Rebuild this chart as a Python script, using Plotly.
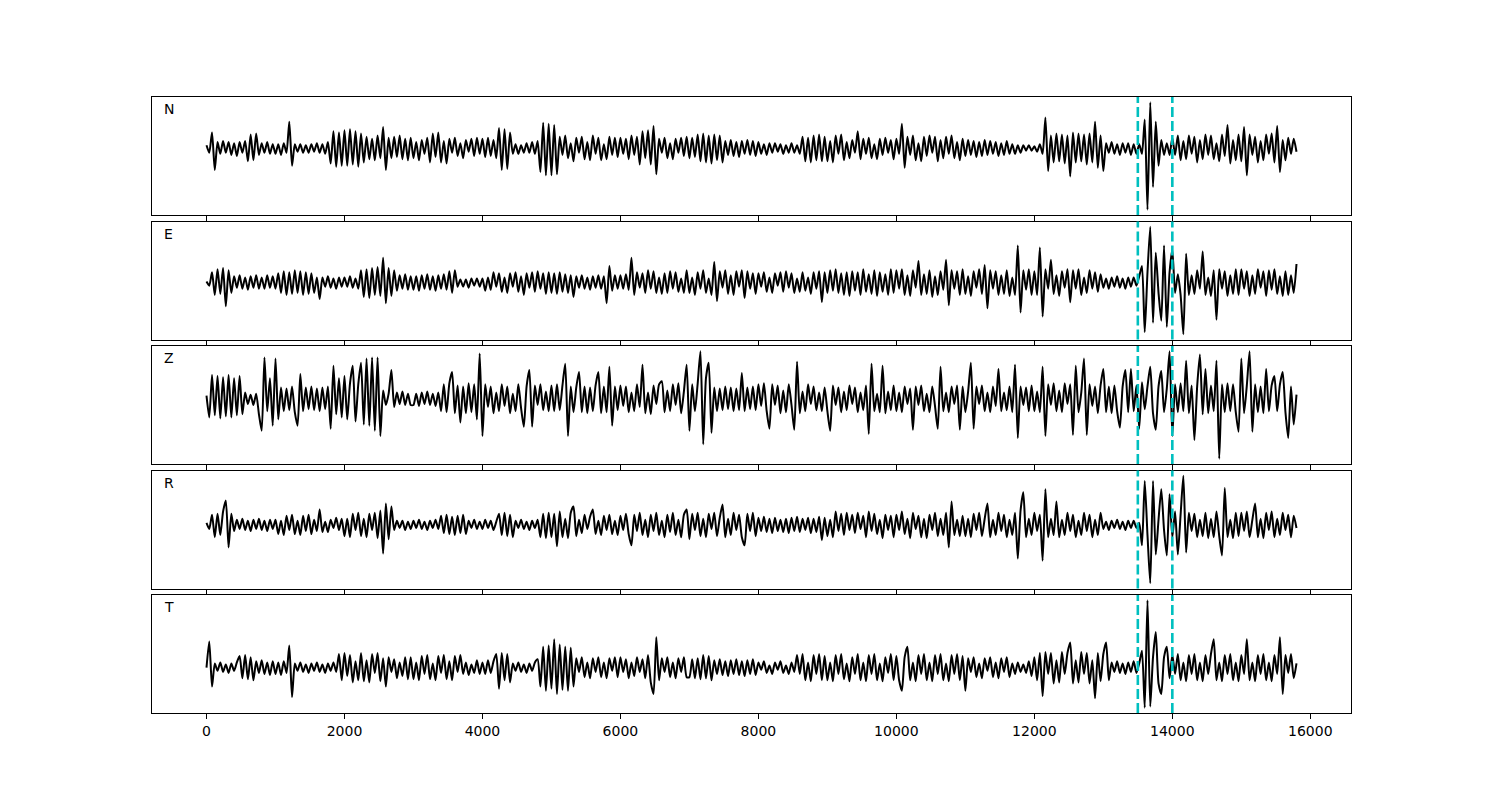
import plotly.graph_objects as go

# ---------------- data ----------------
SAMPLE_STEP = 40    # time units between listed samples (extrema)
ROW_SPAN = 1000     # each row below covers 1000 time units

channels = ["N", "E", "Z", "R", "T"]
pick_times = [13500, 14000]
x_tick_vals = [0, 2000, 4000, 6000, 8000, 10000, 12000, 14000, 16000]
x_tick_text = ["0", "2000", "4000", "6000", "8000", "10000", "12000", "14000", "16000"]

N_rows = [
    [3, -4, 15, -20, 6, -5, 7, -4, 6, -6, 5, -7, 6, -4, 7, -12, 13, -11, 14, -6, 5, -4, 6, -5, 4],
    [-5, 4, -6, 5, -4, 25, -16, 4, -3, 4, -4, 3, -4, 4, -3, 5, -4, 4, -5, 6, -14, 16, -17, 15, -16],
    [17, -16, 18, -15, 16, -17, 14, -13, 11, -10, 9, -11, 12, -9, 20, -20, 10, -9, 11, -8, 12, -10, 9, -11, 10],
    [-9, 6, -11, 8, -5, 10, -13, 14, -8, 15, -13, 7, -14, 9, -4, 10, -7, 5, -9, 8, -3, 9, -7, 10, -5],
    [9, -8, 10, -7, 8, -9, 19, -20, 18, -19, 15, -5, 4, -5, 3, -4, 5, -4, 6, -5, 7, -22, 24, -25, 23],
    [-25, 22, -24, 11, -6, 12, -9, 5, -12, 10, -4, 11, -10, 6, -11, 12, -5, 10, -11, 4, -10, 11, -6, 10, -8],
    [10, -5, 9, -10, 12, -6, 11, -15, 16, -9, 17, -15, 21, -24, 9, -4, 10, -9, 5, -10, 9, -4, 10, -7, 11],
    [-9, 10, -8, 13, -12, 14, -13, 12, -14, 13, -11, 12, -13, 7, -6, 8, -7, 6, -8, 7, -5, 8, -6, 7, -7],
    [6, -5, 4, -6, 5, -4, 5, -3, 4, -5, 3, -4, 5, -4, 3, -5, 11, -12, 10, -13, 12, -11, 13, -12, 11],
    [-12, 7, -13, 12, -5, 13, -11, 6, -9, 8, -4, 16, -10, 9, -5, 10, -9, 4, -10, 9, -6, 10, -4, 8, -10],
    [9, -5, 23, -18, 11, -6, 12, -11, 5, -12, 11, -7, 12, -4, 11, -12, 8, -9, 11, -5, 12, -9, 6, -11, 9],
    [-7, 8, -6, 7, -8, 6, -7, 8, -6, 7, -5, 6, -7, 5, -6, 7, -5, 4, -5, 3, -4, 3, -2, 3, -2],
    [2, -3, 4, -5, 29, -21, 12, -13, 14, -12, 13, -14, 12, -26, 15, -13, 14, -12, 13, -15, 14, -13, 25, -18, 12],
    [-21, 5, -4, 6, -5, 4, -6, 5, -4, 5, -6, 4, -5, 4, -5, 27, -57, 43, -36, 25, -16, 8, -6, 5, -6],
    [10, -6, 12, -11, 7, -10, 12, -5, 11, -13, 8, -10, 13, -6, 12, -10, 5, -12, 13, -7, 22, -14, 8, -11, 13],
    [-12, 20, -25, 13, -6, 11, -13, 7, -11, 13, -5, 14, -13, 21, -22, 8, -11, 10, -5, 9, -3],
]

E_rows = [
    [1, -3, 10, -12, 13, -11, 14, -23, 12, -10, 6, -5, 7, -6, 5, -7, 6, -5, 7, -6, 5, -6, 7, -5, 6],
    [-6, 9, -10, 11, -12, 10, -11, 12, -10, 11, -12, 10, -11, 9, -10, 5, -16, 5, -4, 6, -5, 4, -6, 5, -4],
    [5, -4, 6, -5, 4, -6, 12, -14, 13, -15, 14, -12, 15, -13, 24, -20, 14, -13, 12, -8, 7, -6, 8, -7, 6],
    [-7, 6, -8, 7, -6, 8, -7, 6, -8, 7, -6, 8, -7, 11, -10, 12, -4, 3, -4, 3, -5, 4, -3, 4, -4],
    [4, -8, 5, -7, 10, -4, 9, -9, 5, -10, 9, -4, 10, -9, 6, -12, 9, -5, 10, -9, 11, -6, 9, -11, 10],
    [-10, 9, -11, 10, -9, 8, -10, 7, -14, 6, -5, 7, -6, 5, -7, 6, -5, 7, -6, 6, -20, 16, -8, 7, -6],
    [7, -6, 8, -7, 24, -12, 10, -5, 9, -10, 12, -6, 11, -10, 5, -11, 9, -10, 11, -6, 10, -9, 4, -10, 12],
    [-10, 5, -12, 10, -6, 12, -10, 4, -12, 20, -18, 11, -5, 12, -11, 7, -12, 11, -4, 12, -15, 11, -6, 9, -11],
    [9, -4, 10, -9, 5, -10, 9, -3, 10, -9, 11, -5, 9, -10, 4, -9, 10, -8, 5, -11, 10, -6, 11, -19, 10],
    [-10, 12, -8, 13, -10, 9, -12, 10, -13, 11, -8, 10, -12, 13, -9, 8, -11, 12, -13, 10, -9, 8, -12, 13, -10],
    [12, -6, 13, -12, 7, -13, 12, -5, 21, -12, 8, -11, 12, -14, 6, -12, 11, -7, 22, -22, 12, -6, 11, -12, 13],
    [-11, 6, -13, 11, -5, 13, -11, 17, -25, 12, -6, 11, -12, 7, -11, 12, -13, 5, -12, 36, -29, 12, -7, 13, -12],
    [11, -12, 34, -33, 13, -6, 22, -11, 7, -13, 11, -5, 13, -19, 12, -6, 13, -12, 5, -10, 12, -6, 10, -9, 8],
    [-5, 4, -6, 5, -4, 6, -5, 4, -6, 5, -4, 5, -3, 6, 16, -48, 10, 54, -39, 29, -10, -37, 36, -43, 10],
    [32, -10, 8, -12, -50, 28, -12, 7, -11, 12, -6, 30, -12, 5, -13, 12, -36, 13, -6, 11, -13, 7, -11, 13, -12],
    [13, -6, 11, -13, 7, -11, 13, -5, 11, -13, 12, -7, 13, -11, 6, -13, 11, -12, 7, -10, 18],
]

Z_rows = [
    [3, -18, 23, -16, 22, -19, 21, -17, 23, -18, 20, -16, 22, -15, 6, -5, 4, -6, 5, -15, -31, 40, -12, 20, -26],
    [39, -20, 11, -12, 10, -11, 12, -13, -26, 24, -12, 11, -10, 12, -11, 10, -12, 11, -10, 12, -29, 32, -15, 20, -18],
    [22, -20, 15, 32, -22, 14, 35, -25, 39, -26, 40, -31, 40, -36, 8, -6, 5, 28, -8, 6, -5, 7, -6, 5, -6],
    [-6, 5, -7, 6, -5, 7, -6, 5, -7, 6, -12, 14, -13, 15, 26, -14, 13, -23, 12, -14, 15, -13, 14, -20, 44],
    [-36, 14, -8, 12, -14, 6, -12, 14, -7, 12, -14, 5, -12, 14, -9, -27, 12, 28, -27, 13, -6, 14, -11, 7, -12],
    [13, -12, 14, -11, 13, 34, -36, 12, -13, 11, 26, -13, 12, -14, 11, -12, 13, 26, -14, 12, -13, 31, -26, 12, -11],
    [13, -7, 12, -13, 6, -12, 14, -8, 33, -14, 6, -15, 13, -5, 14, 17, -13, 8, -12, 14, -6, 15, -14, 7, 33],
    [-31, 14, -12, 15, 46, -44, 20, 35, -33, 11, -12, 10, -11, 12, -10, 11, -12, 10, -11, 25, -12, 11, -10, 12, -11],
    [14, -7, 15, -12, -29, 14, -6, 13, -14, 8, -13, 14, -6, -30, 36, -14, 7, -12, 14, -5, 12, -11, 6, -12, 11],
    [-12, -31, 13, -6, 11, -13, 7, -11, 13, -5, 11, -13, 6, -11, 13, -34, 34, -12, 5, -13, 32, -14, 7, -11, 13],
    [-12, 6, -13, 12, -5, 10, -30, 12, -6, 13, -12, 5, -13, 12, -7, -29, 31, -12, 6, -13, 12, -5, 13, -30, 12],
    [-13, 7, 35, -29, 12, -5, 13, -12, 6, -13, 12, -7, 29, -12, 6, -11, 12, -13, 33, -38, 12, -6, 11, -12, 13],
    [-12, 7, -13, 31, -36, 14, -6, 15, -12, 8, -13, 15, -5, 14, -35, 32, -13, 6, 39, -35, 14, -7, 12, -14, 13],
    [29, -13, 12, -14, 13, -12, -28, 12, 28, -13, 29, -12, 13, -29, 16, -10, 12, 31, -14, -30, 12, 27, -13, 10, 46],
    [-36, 14, -13, 15, -12, 37, -14, 13, -40, 12, 43, -15, 29, -14, 13, -12, 37, -58, 14, -13, 15, -12, 14, -13, -32],
    [39, -14, 13, 46, -32, 14, -13, 12, -14, 29, -12, 13, 22, -12, 14, 26, -13, -38, 12, -25, 4],
]

R_rows = [
    [2, -4, 10, -12, 11, -10, 13, 24, -22, 11, -6, 5, -4, 6, -5, 4, -6, 5, -4, 6, -5, 4, -6, 5, -4],
    [5, -9, 4, -10, 9, -5, 10, -9, 4, -10, 9, -6, 10, -9, 5, -6, 15, -7, 3, -7, 5, -3, 7, -5, 6],
    [-11, 6, -12, 11, -5, 12, -11, 6, -12, 11, -5, 12, -13, 14, -28, 21, -14, 18, -5, 4, -3, 4, -5, 3, -4],
    [4, -3, 5, -4, 3, -5, 4, -3, 5, -4, 9, -8, 10, -9, 8, -10, 9, -8, 10, -9, 4, -3, 5, -4, 3],
    [-4, 5, -3, 4, -5, 3, 11, -10, 12, -11, 10, -12, 4, -3, 5, -4, 3, -5, 4, -3, 5, -12, 11, -13, 12],
    [-12, 11, -21, 13, -12, 6, -13, 12, 18, -11, 5, -8, 10, -4, 8, 15, -9, 4, -10, 9, -5, 10, -9, 4, -10],
    [9, -5, 11, -9, -20, 10, -6, 12, -10, 5, -12, 10, -6, 12, -10, 4, -12, 10, -7, 12, -10, 5, -12, 10, 15],
    [-14, 11, -5, 12, -11, 6, -12, 11, -4, 12, -11, 7, 20, -12, 6, -10, 12, -5, 10, -12, -20, 11, -6, 12, -11],
    [7, -6, 8, -7, 6, -8, 7, -6, 5, -7, 6, -8, 7, -6, 8, -7, 6, -5, 7, -8, 6, -7, 8, -15, 7],
    [-11, 5, -12, 13, -6, 11, -10, 12, -5, 10, -8, 12, -4, 9, -12, 13, -6, 11, -9, 5, -13, 10, -5, 9, -12],
    [10, -5, 13, -9, 6, -13, 12, -4, 9, -12, 6, -13, 10, -5, 12, -11, 6, -10, 12, -22, 23, -10, 5, -11, 9],
    [-11, 6, -12, 11, -5, 12, -11, 6, 21, -12, 5, -10, 12, -6, 10, -12, 5, -10, 12, -33, 14, 32, -12, 6, -10],
    [12, -6, 10, -35, 35, -12, 6, -10, 23, -12, 5, -10, 12, -6, 10, -12, 4, -10, 12, -6, 10, -12, 5, -10, 12],
    [-4, 3, -5, 4, -3, 5, -4, 3, -5, 4, -3, 4, -3, 2, -20, 43, -10, -57, 43, -29, 5, 35, -5, -30, 30],
    [-12, 13, -29, 10, 48, -27, 12, -6, 11, -12, 5, -11, 12, -13, 6, -12, 13, -11, -30, 36, -12, 5, -13, 12, -11],
    [12, -6, 13, -12, 5, 21, -12, 6, -13, 12, -5, 13, -12, 6, -10, 12, -5, 10, -12, 9, -3],
]

T_rows = [
    [0, 25, -18, 4, -3, 5, -4, 3, -5, 4, -3, 5, 11, -10, 12, -11, 10, -12, 6, -5, 7, -6, 5, -7, 6],
    [-6, 5, -7, 6, -5, 21, -28, 4, -3, 5, -4, 3, -5, 4, -3, 5, -4, 3, -5, 4, -3, 5, -4, 13, -12],
    [14, -8, 12, -14, 6, -12, 14, -13, 7, -14, 13, -5, 14, -13, 9, -18, 10, -4, 8, -10, 5, -8, 10, -11, 10],
    [-11, 5, -12, 11, -6, 12, -11, 4, -12, 11, -5, 12, -11, 6, -12, 11, -4, 12, -6, 5, -7, 3, -5, 7, -6],
    [5, -6, 7, -5, 6, 13, -20, 14, -12, 13, -14, 4, -3, 5, -4, 3, -5, 4, -3, 5, 8, -18, 20, -22, 21],
    [-20, 27, -25, 22, -21, 20, -22, 19, -18, 9, -4, 10, -9, 5, -10, 9, -4, 10, -9, 5, -10, 9, -3, 10, -9],
    [10, -4, 8, -10, 5, -8, 10, -4, 8, -10, 12, -14, -25, 29, -12, 9, -4, 10, -9, 5, -10, 9, -4, 10, -9],
    [-9, 8, -10, 9, -11, 12, -10, 11, -12, 7, -6, 8, -7, 6, -8, 7, -6, 8, -7, 6, -8, 7, -6, 8, -7],
    [5, -2, 6, -5, 2, -6, 5, -2, 6, -5, 2, -6, 5, -4, 12, -6, 13, -12, 5, -13, 12, -6, 13, -12, 11],
    [-12, 5, -13, 12, -6, 13, -11, 4, -13, 10, -6, 13, -12, 5, -13, 12, -6, 13, -12, 4, -13, 10, -5, 13, -12],
    [11, -12, -22, 10, 20, -12, 5, -13, 12, -6, 13, -12, 5, -13, 12, -6, 13, -12, 4, -13, 12, -6, 13, -12, 11],
    [-22, 9, -4, 10, -9, 4, -10, 9, -3, 10, -9, 5, -10, 9, -4, 10, -9, 4, -6, 5, -4, 3, -5, 6, -8],
    [10, -12, 14, -27, 15, -6, 14, -15, 7, -14, 15, -6, 14, 24, -15, 7, -14, 15, -6, 14, -15, 7, -29, 14, -13],
    [13, 24, -12, 5, -4, 6, -5, 4, -6, 5, -4, 6, -5, 4, 16, -38, 64, -37, 10, 34, -15, -25, 10, 20, -10],
    [12, -6, 13, -12, 5, -13, 12, -6, 13, -12, 5, -13, 12, -6, 13, 27, -12, 5, -13, 12, -6, 13, -12, 5, -13],
    [12, -6, 27, -12, 5, -13, 12, -6, 13, -12, 5, -13, 12, -6, 29, -25, 12, -5, 13, -10, 4],
]

traces_rows = [N_rows, E_rows, Z_rows, R_rows, T_rows]


def expand(rows):
    t, y = [], []
    for k, row in enumerate(rows):
        for j, v in enumerate(row):
            t.append(k * ROW_SPAN + j * SAMPLE_STEP)
            y.append(v)
    return t, y


# ---------------- layout geometry ----------------
W, H = 1500, 800
M_L, M_R, M_T, M_B = 144, 157, 89, 95   # page body adds ~7px offset
plot_h = H - M_T - M_B          # 616
panel_h = 118
panel_pitch = 124.5
FONT = "DejaVu Sans"
FONT_SIZE = 14

fig = go.Figure()
layout = dict(
    width=W, height=H,
    margin=dict(l=M_L, r=M_R, t=M_T, b=M_B, pad=0),
    paper_bgcolor="white", plot_bgcolor="white",
    showlegend=False,
    font=dict(family=FONT, size=FONT_SIZE, color="black"),
)
annotations = []
shapes = []

n = len(channels)
for i, (name, rows) in enumerate(zip(channels, traces_rows)):
    t, y = expand(rows)
    sfx = "" if i == 0 else str(i + 1)
    fig.add_trace(go.Scatter(
        x=t, y=y, mode="lines",
        line=dict(color="black", width=2, shape="spline", smoothing=0.6),
        xaxis="x" + sfx, yaxis="y" + sfx, hoverinfo="skip",
    ))
    top = 1 - (panel_pitch * i) / plot_h
    bot = top - panel_h / plot_h
    ymin, ymax = min(y), max(y)
    pad = 0.05 * (ymax - ymin)
    is_bottom = (i == n - 1)
    layout["xaxis" + sfx] = dict(
        domain=[0, 1], anchor="y" + sfx, range=[-790, 16590],
        showline=True, mirror=True, linecolor="black", linewidth=1,
        ticks="outside", ticklen=5, tickwidth=1, tickcolor="black",
        tickvals=x_tick_vals, ticktext=x_tick_text,
        showticklabels=is_bottom, showgrid=False, zeroline=False,
        tickfont=dict(family=FONT, size=FONT_SIZE, color="black"),
        fixedrange=True,
    )
    layout["yaxis" + sfx] = dict(
        domain=[bot, top], anchor="x" + sfx, range=[ymin - pad, ymax + pad],
        showline=True, mirror=True, linecolor="black", linewidth=1,
        showticklabels=False, ticks="", showgrid=False, zeroline=False,
        fixedrange=True,
    )
    annotations.append(dict(
        text=name, xref="x" + sfx + " domain", yref="y" + sfx + " domain",
        x=0.008, y=0.98, xanchor="left", yanchor="top", showarrow=False,
        font=dict(family=FONT, size=FONT_SIZE, color="black"),
    ))
    for pt in pick_times:
        shapes.append(dict(
            type="line", xref="x" + sfx, yref="y" + sfx + " domain",
            x0=pt, x1=pt, y0=0, y1=1,
            line=dict(color="#00BFBF", width=2.6, dash="10px,4px"),
            layer="above",
        ))

layout["annotations"] = annotations
layout["shapes"] = shapes
fig.update_layout(**layout)
fig.write_html("out.html")
